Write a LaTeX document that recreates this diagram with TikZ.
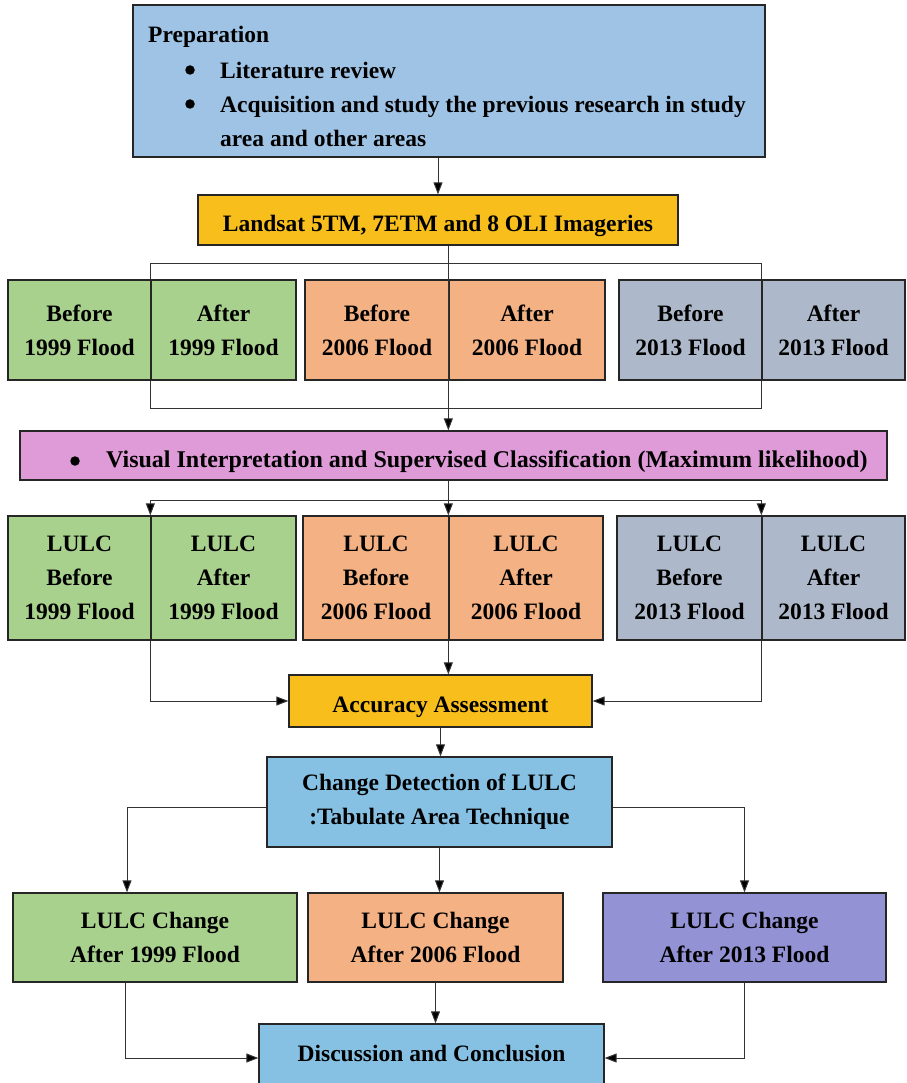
\documentclass[tikz,border=0pt]{standalone}
\usepackage{fontspec}
\setmainfont{Liberation Serif}
\usetikzlibrary{arrows.meta}
\definecolor{prepblue}{HTML}{9FC3E5}
\definecolor{gold}{HTML}{F8BF1C}
\definecolor{grn}{HTML}{A9D18E}
\definecolor{org}{HTML}{F4B183}
\definecolor{gry}{HTML}{ADB9CA}
\definecolor{pnk}{HTML}{DF9AD8}
\definecolor{skyblue}{HTML}{86C1E4}
\definecolor{purp}{HTML}{9292D4}
\tikzset{
  box/.style={draw=black!85, line width=1.3pt, inner sep=0pt, align=center,
    font=\bfseries\fontsize{23.5}{34}\selectfont},
  txt/.style={inner sep=0pt, font=\bfseries\fontsize{23.5}{34}\selectfont},
  single/.style={text height=25pt, text depth=2pt},
  dot/.style={circle, fill=black, inner sep=0pt, minimum size=9.5pt},
  ln/.style={draw=black!80, line width=1pt},
  arr/.style={ln, -{Triangle[length=12pt,width=9pt,fill=black]}},
}
\begin{document}
\begin{tikzpicture}[x=1pt,y=-1pt]
  \useasboundingbox (0,0) rectangle (906,1083);
  \fill[white] (0,0) rectangle (906,1083);

  % preparation
  \node[box, fill=prepblue, minimum width=632pt, minimum height=152pt] (prep) at (449,81) {};
  \node[txt, anchor=west] (prephead) at (148,37) {Preparation};
  \node[dot] (bul1) at (190,70) {};
  \node[txt, anchor=west] (lit) at (220,70) {Literature review};
  \node[dot] (bul2) at (190,104) {};
  \node[txt, anchor=west, align=left] (acq) at (220,121)
    {Acquisition and study the previous research in study\\area and other areas};

  \node[box, single, fill=gold, minimum width=480pt, minimum height=50pt] (land) at (438,220)
    {Landsat 5TM, 7ETM and 8 OLI Imageries};

  % imageries
  \node[box, fill=grn, minimum width=143pt, minimum height=100pt] (b99) at (79.5,330) {Before\\1999 Flood};
  \node[box, fill=grn, minimum width=145pt, minimum height=100pt] (a99) at (223.5,330) {After\\1999 Flood};
  \node[box, fill=org, minimum width=144pt, minimum height=100pt] (b06) at (377,330) {Before\\2006 Flood};
  \node[box, fill=org, minimum width=156pt, minimum height=100pt] (a06) at (527,330) {After\\2006 Flood};
  \node[box, fill=gry, minimum width=143pt, minimum height=100pt] (b13) at (690.5,330) {Before\\2013 Flood};
  \node[box, fill=gry, minimum width=143pt, minimum height=100pt] (a13) at (833.5,330) {After\\2013 Flood};

  \node[box, fill=pnk, minimum width=867pt, minimum height=49pt] (vis) at (453.5,455.5) {};
  \node[dot] (bul3) at (75,461) {};
  \node[txt, single, anchor=west] (vistxt) at (106,455.5)
    {\fontsize{24}{34}\selectfont Visual Interpretation and Supervised Classification (Maximum likelihood)};

  % classified maps
  \node[box, fill=grn, minimum width=143pt, minimum height=124pt] (lb99) at (79.5,578) {LULC\\Before\\1999 Flood};
  \node[box, fill=grn, minimum width=145pt, minimum height=124pt] (la99) at (223.5,578) {LULC\\After\\1999 Flood};
  \node[box, fill=org, minimum width=146pt, minimum height=124pt] (lb06) at (376,578) {LULC\\Before\\2006 Flood};
  \node[box, fill=org, minimum width=154pt, minimum height=124pt] (la06) at (526,578) {LULC\\After\\2006 Flood};
  \node[box, fill=gry, minimum width=145pt, minimum height=124pt] (lb13) at (689.5,578) {LULC\\Before\\2013 Flood};
  \node[box, fill=gry, minimum width=143pt, minimum height=124pt] (la13) at (833.5,578) {LULC\\After\\2013 Flood};

  \node[box, single, fill=gold, minimum width=303pt, minimum height=52pt] (acc) at (440.5,701) {Accuracy Assessment};
  \node[box, fill=skyblue, minimum width=345pt, minimum height=90pt] (chg) at (439.5,802)
    {Change Detection of LULC\\:Tabulate Area Technique};

  \node[box, fill=grn, minimum width=284pt, minimum height=89pt] (c99) at (155,937.5) {LULC Change\\After 1999 Flood};
  \node[box, fill=org, minimum width=255pt, minimum height=89pt] (c06) at (435.5,937.5) {LULC Change\\After 2006 Flood};
  \node[box, fill=purp, minimum width=283pt, minimum height=89pt] (c13) at (744.5,937.5) {LULC Change\\After 2013 Flood};

  \node[box, fill=skyblue, minimum width=345pt, minimum height=68pt] (disc) at (431.5,1058) {};
  \node[txt, single] (disctxt) at (431.5,1050) {Discussion and Conclusion};

  % connectors
  \draw[arr] (prep.south -| land) -- (land.north);
  \draw[ln] (a99.north west) -- ++(0,-16) -| (a13.north west);
  \draw[ln] (a99.south west) -- ++(0,28) -| (a13.south west);
  \draw[arr] (land.south -| a06.west) -- (vis.north -| a06.west);

  \draw[ln] (vis.south -| la06.west) -- ++(0,20) coordinate (split);
  \foreach \m in {la99,la06,la13}
    \draw[arr] (split) -| (\m.north west);

  \draw[arr] (la99.south west) |- (acc.west);
  \draw[arr] (la06.south west) -- (la06.south west |- acc.north);
  \draw[arr] (la13.south west) |- (acc.east);
  \draw[arr] (acc.south) -- (acc.south |- chg.north);

  \draw[arr] ([yshift=-5pt]chg.west) -| ([xshift=-28pt]c99.north);
  \draw[arr] (chg.south) -- (chg.south |- c06.north);
  \draw[arr] ([yshift=-5pt]chg.east) -| (c13.north);

  \draw[arr] ([xshift=-30pt]c99.south) |- (disc.west);
  \draw[arr] (c06.south) -- (c06.south |- disc.north);
  \draw[arr] (c13.south) |- (disc.east);
\end{tikzpicture}
\end{document}
